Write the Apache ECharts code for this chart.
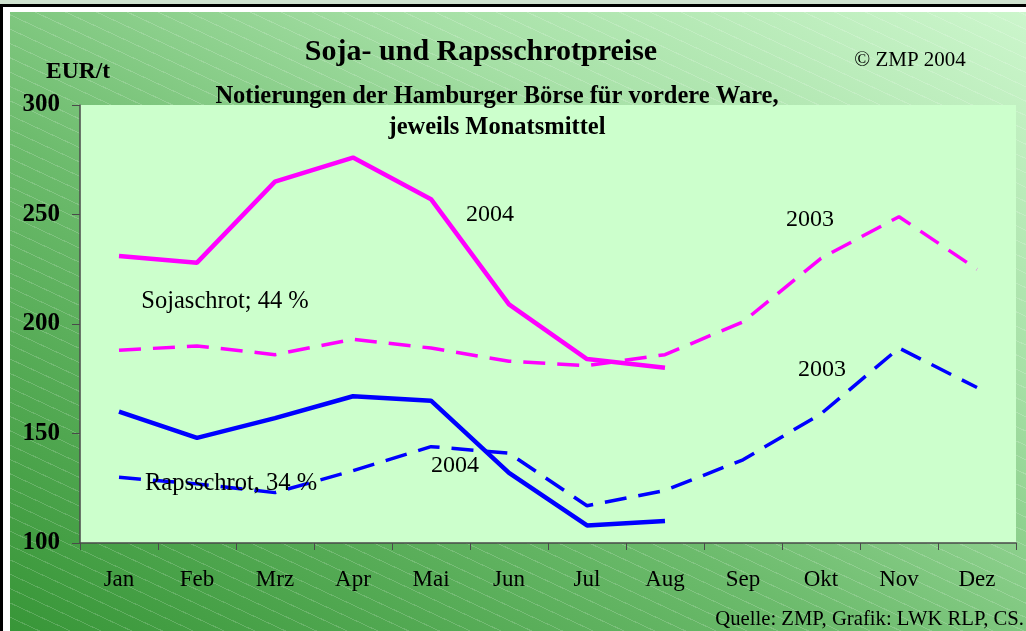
<!DOCTYPE html>
<html>
<head>
<meta charset="utf-8">
<script src="https://cdn.jsdelivr.net/npm/echarts@6/dist/echarts.min.js"></script>
<style>
  html, body { margin: 0; padding: 0; background: #ffffff; }
  #frame { position: absolute; left: 0; top: 0; width: 1026px; height: 631px; overflow: hidden; background: #ffffff; }
  #topStrip { position: absolute; left: 0; top: 0; width: 1026px; height: 4px; background: #cfe2cf; }
  #topLine { position: absolute; left: 0; top: 4px; width: 1026px; height: 3px; background: #000; }
  #leftLine { position: absolute; left: 0; top: 4px; width: 3px; height: 627px; background: #000; }
  #bg {
    position: absolute; left: 10px; top: 12px; width: 1016px; height: 619px;
    background:
      repeating-linear-gradient(25deg, rgba(255,255,255,0) 0px, rgba(255,255,255,0) 12px, rgba(255,255,255,0.17) 12px, rgba(255,255,255,0.17) 13px),
      linear-gradient(to top right, #389638 0%, #6cbb6c 40%, #a6e0a6 70%, #ccf6cc 100%);
  }
  #chart { position: absolute; left: 0; top: 0; width: 1026px; height: 631px; }
</style>
</head>
<body>
<div id="frame">
  <div id="topStrip"></div>
  <div id="topLine"></div>
  <div id="leftLine"></div>
  <div id="bg"></div>
  <div id="chart"></div>
</div>
<script>
const months = ["Jan", "Feb", "Mrz", "Apr", "Mai", "Jun", "Jul", "Aug", "Sep", "Okt", "Nov", "Dez"];
const yTicks = [100, 150, 200, 250, 300];
const soja2004 = [231, 228, 265, 276, 257, 209, 184, 180, null, null, null, null];
const soja2003 = [188, 190, 186, 193, 189, 183, 181, 186, 201, 230, 249, 225];
const raps2004 = [160, 148, 157, 167, 165, 132, 108, 110, null, null, null, null];
const raps2003 = [130, 127, 123, 133, 144, 141, 117, 124, 138, 159, 189, 171];

const serif = "'Liberation Serif', 'DejaVu Serif', serif";
const myChart = echarts.init(document.getElementById("chart"));

function label(text, x, y, size, bold, align) {
  return {
    type: "text",
    z: 100,
    style: {
      text: text,
      x: x,
      y: y,
      align: align || "center",
      verticalAlign: "middle",
      fill: "#000",
      font: (bold ? "bold " : "") + size + "px " + serif
    }
  };
}

myChart.setOption({
  backgroundColor: "transparent",
  animation: false,
  grid: {
    left: 80,
    top: 105,
    width: 936,
    height: 438,
    show: true,
    backgroundColor: "#ccffcc",
    borderWidth: 0
  },
  xAxis: {
    type: "category",
    data: months,
    boundaryGap: true,
    axisLine: { lineStyle: { color: "#4a4a4a", width: 1.5 } },
    axisTick: { show: true, inside: false, length: 7, lineStyle: { color: "#4a4a4a" } },
    axisLabel: { color: "#000", fontFamily: serif, fontSize: 23, margin: 25 }
  },
  yAxis: {
    type: "value",
    min: yTicks[0],
    max: yTicks[yTicks.length - 1],
    interval: 50,
    splitLine: { show: false },
    axisLine: { show: true, lineStyle: { color: "#4a4a4a", width: 1.5 } },
    axisTick: { show: true, inside: false, length: 8, lineStyle: { color: "#4a4a4a" } },
    axisLabel: { color: "#000", fontFamily: serif, fontSize: 25, fontWeight: "bold", margin: 20 }
  },
  series: [
    {
      name: "Soja 2003",
      type: "line",
      data: soja2003,
      showSymbol: false,
      lineStyle: { color: "#ff00ff", width: 3.5, type: [22, 12] }
    },
    {
      name: "Raps 2003",
      type: "line",
      data: raps2003,
      showSymbol: false,
      lineStyle: { color: "#0000ff", width: 3.5, type: [22, 12] }
    },
    {
      name: "Soja 2004",
      type: "line",
      data: soja2004,
      showSymbol: false,
      lineStyle: { color: "#ff00ff", width: 4.5 }
    },
    {
      name: "Raps 2004",
      type: "line",
      data: raps2004,
      showSymbol: false,
      lineStyle: { color: "#0000ff", width: 4.5 }
    }
  ],
  graphic: [
    label("Soja- und Rapsschrotpreise", 481, 52, 30, true),
    label("© ZMP 2004", 910, 60, 21, false),
    label("EUR/t", 78, 72, 23.5, true),
    label("Notierungen der Hamburger Börse für vordere Ware,", 497, 97, 24.5, true),
    label("jeweils Monatsmittel", 497, 128, 24.5, true),
    label("2004", 490, 215, 24, false),
    label("2003", 810, 220, 24, false),
    label("Sojaschrot; 44 %", 225, 302, 24.5, false),
    label("2003", 822, 370, 24, false),
    label("Rapsschrot, 34 %", 231, 484, 24.5, false),
    label("2004", 455, 466, 24, false),
    label("Quelle: ZMP, Grafik: LWK RLP, CS.", 1024, 620, 20.7, false, "right")
  ]
});
</script>
</body>
</html>
